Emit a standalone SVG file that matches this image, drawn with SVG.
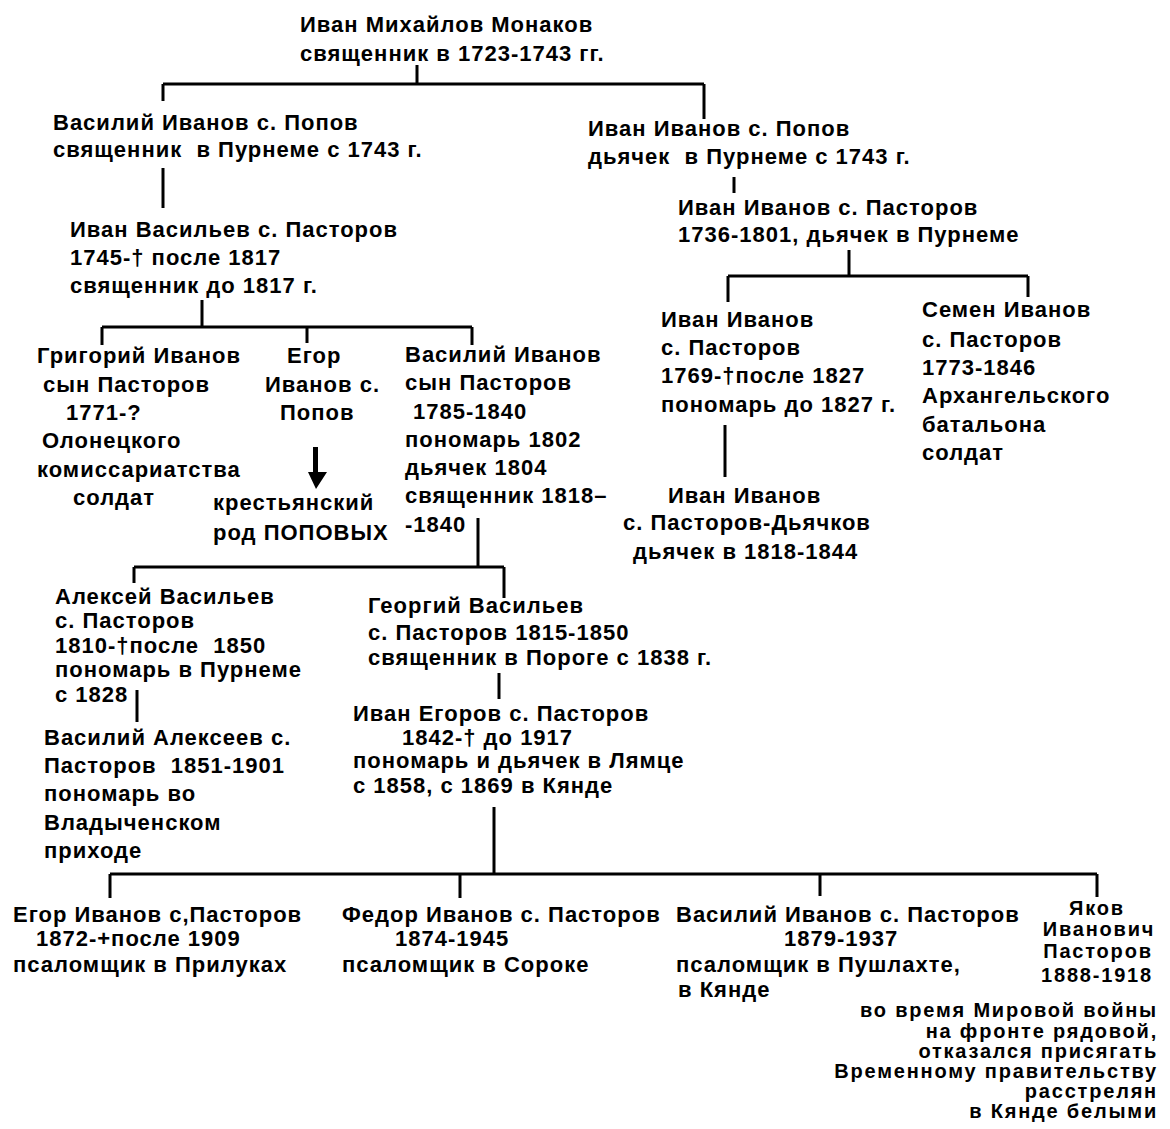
<svg xmlns="http://www.w3.org/2000/svg" width="1170" height="1129" viewBox="0 0 1170 1129">
<style>
text{font-family:"Liberation Sans",Arial,sans-serif;font-weight:bold;font-size:22px;letter-spacing:1px;fill:#000;white-space:pre}
.s{font-size:20px;letter-spacing:1.8px}
.c{text-anchor:middle}
.e{text-anchor:end}
.ln{stroke:#000;stroke-width:3;fill:none}
</style>
<rect width="1170" height="1129" fill="#fff"/>
<g id="connectors" class="ln">
<path d="M417,65V84M163,84H704M163,84V101M704,84V119"/>
<path d="M163,168V208"/>
<path d="M202,300V327M102,327H472M102,327V345M307,327V343M472,327V345"/>
<path d="M734,177V193"/>
<path d="M849,250V276M728,276H1028M728,276V302M1028,276V297"/>
<path d="M725,425V477"/>
<path d="M478,518V567M134,567H504M134,567V583M504,567V598"/>
<path d="M137,690V722"/>
<path d="M499,673V699"/>
<path d="M494,807V874M110,874H1097M110,874V898M460,874V898M820,874V896M1097,874V897"/>
</g>
<g id="n-ivan-monakov">
<text x="300" y="32">Иван Михайлов Монаков</text>
<text x="300" y="61">священник в 1723-1743 гг.</text>
</g>
<g id="n-vasily-popov">
<text x="53" y="130">Василий Иванов с. Попов</text>
<text x="53" y="157">священник  в Пурнеме с 1743 г.</text>
</g>
<g id="n-ivan-popov">
<text x="588" y="136">Иван Иванов с. Попов</text>
<text x="588" y="164">дьячек  в Пурнеме с 1743 г.</text>
</g>
<g id="n-ivan-vasiliev">
<text x="70" y="237">Иван Васильев с. Пасторов</text>
<text x="70" y="265">1745-† после 1817</text>
<text x="70" y="293">священник до 1817 г.</text>
</g>
<g id="n-ivan-ivanov-1736">
<text x="678" y="215">Иван Иванов с. Пасторов</text>
<text x="678" y="242">1736-1801, дьячек в Пурнеме</text>
</g>
<g id="n-grigory">
<text x="37" y="363">Григорий Иванов</text>
<text x="43" y="392">сын Пасторов</text>
<text x="66" y="420">1771-?</text>
<text x="42" y="448">Олонецкого</text>
<text x="37" y="477">комиссариатства</text>
<text x="73" y="505">солдат</text>
</g>
<g id="n-egor-popov">
<text x="287" y="363">Егор</text>
<text x="265" y="392">Иванов с.</text>
<text x="280" y="420">Попов</text>
<path d="M313,447H318V472H327L316,489L308,472H313Z" fill="#000"/>
<text x="213" y="510">крестьянский</text>
<text x="213" y="540">род ПОПОВЫХ</text>
</g>
<g id="n-vasily-1785">
<text x="405" y="362">Василий Иванов</text>
<text x="405" y="390">сын Пасторов</text>
<text x="413" y="419">1785-1840</text>
<text x="405" y="447">пономарь 1802</text>
<text x="405" y="475">дьячек 1804</text>
<text x="405" y="503">священник 1818–</text>
<text x="405" y="532">-1840</text>
</g>
<g id="n-ivan-1769">
<text x="661" y="327">Иван Иванов</text>
<text x="661" y="355">с. Пасторов</text>
<text x="661" y="383">1769-†после 1827</text>
<text x="661" y="412">пономарь до 1827 г.</text>
</g>
<g id="n-semen">
<text x="922" y="317">Семен Иванов</text>
<text x="922" y="347">с. Пасторов</text>
<text x="922" y="375">1773-1846</text>
<text x="922" y="403">Архангельского</text>
<text x="922" y="432">батальона</text>
<text x="922" y="460">солдат</text>
</g>
<g id="n-ivan-dyachkov">
<text x="668" y="503">Иван Иванов</text>
<text x="623" y="530">с. Пасторов-Дьячков</text>
<text x="633" y="559">дьячек в 1818-1844</text>
</g>
<g id="n-alexey">
<text x="55" y="604">Алексей Васильев</text>
<text x="55" y="628">с. Пасторов</text>
<text x="55" y="653">1810-†после  1850</text>
<text x="55" y="677">пономарь в Пурнеме</text>
<text x="55" y="702">с 1828</text>
</g>
<g id="n-vasily-alekseev">
<text x="44" y="745">Василий Алексеев с.</text>
<text x="44" y="773">Пасторов  1851-1901</text>
<text x="44" y="801">пономарь во</text>
<text x="44" y="830">Владыченском</text>
<text x="44" y="858">приходе</text>
</g>
<g id="n-georgy">
<text x="368" y="613">Георгий Васильев</text>
<text x="368" y="640">с. Пасторов 1815-1850</text>
<text x="368" y="665">священник в Пороге с 1838 г.</text>
</g>
<g id="n-ivan-egorov">
<text x="353" y="721">Иван Егоров с. Пасторов</text>
<text x="402" y="745">1842-† до 1917</text>
<text x="353" y="768">пономарь и дьячек в Лямце</text>
<text x="353" y="793">с 1858, с 1869 в Кянде</text>
</g>
<g id="n-egor-1872">
<text x="13" y="922">Егор Иванов с,Пасторов</text>
<text x="36" y="946">1872-+после 1909</text>
<text x="13" y="972">псаломщик в Прилуках</text>
</g>
<g id="n-fedor">
<text x="342" y="922">Федор Иванов с. Пасторов</text>
<text x="395" y="946">1874-1945</text>
<text x="342" y="972">псаломщик в Сороке</text>
</g>
<g id="n-vasily-1879">
<text x="676" y="922">Василий Иванов с. Пасторов</text>
<text x="784" y="946">1879-1937</text>
<text x="676" y="972">псаломщик в Пушлахте,</text>
<text x="678" y="997">в Кянде</text>
</g>
<g id="n-yakov">
<text class="s c" x="1097" y="915">Яков</text>
<text class="s c" x="1099" y="936">Иванович</text>
<text class="s c" x="1098" y="958">Пасторов</text>
<text class="s c" x="1097" y="982">1888-1918</text>
<text class="s e" x="1158" y="1017">во время Мировой войны</text>
<text class="s e" x="1158" y="1038">на фронте рядовой,</text>
<text class="s e" x="1158" y="1058">отказался присягать</text>
<text class="s e" x="1158" y="1078">Временному правительству</text>
<text class="s e" x="1158" y="1098">расстрелян</text>
<text class="s e" x="1158" y="1118">в Кянде белыми</text>
</g>
</svg>
